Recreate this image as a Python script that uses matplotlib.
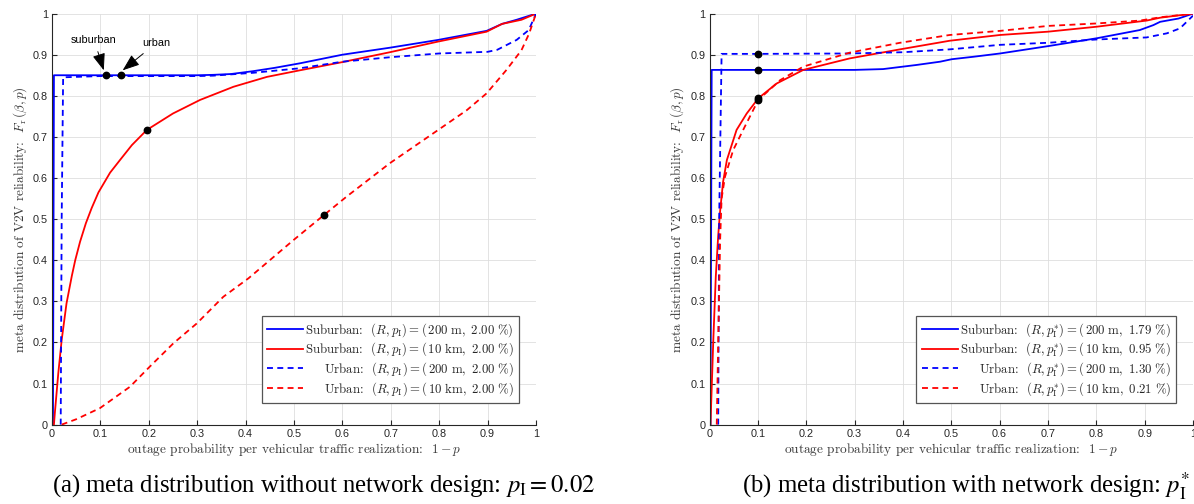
import matplotlib
matplotlib.use("Agg")
import matplotlib.pyplot as plt
import numpy as np

plt.rcParams['mathtext.fontset'] = 'cm'
plt.rcParams['font.family'] = ['Liberation Sans', 'DejaVu Sans']

# ---------------- data: (a) without network design ----------------
a_sub200_x = [0.002, 0.004, 0.1, 0.2, 0.3, 0.333, 0.37, 0.416, 0.46, 0.512, 0.6, 0.698, 0.798, 0.898, 0.93, 0.96, 1.0]
a_sub200_y = [0.0, 0.85, 0.85, 0.85, 0.85, 0.851, 0.853, 0.86, 0.868, 0.879, 0.9, 0.917, 0.936, 0.958, 0.975, 0.985, 1.0]

a_sub10k_x = [0.004, 0.006, 0.013, 0.02, 0.03, 0.041, 0.048, 0.058, 0.07, 0.082, 0.096, 0.12, 0.14, 0.165, 0.196, 0.25,
              0.306, 0.375, 0.444, 0.512, 0.6, 0.698, 0.798, 0.898, 0.93, 0.97, 1.0]
a_sub10k_y = [0.0, 0.03, 0.125, 0.206, 0.295, 0.362, 0.4, 0.445, 0.49, 0.527, 0.565, 0.613, 0.643, 0.68, 0.717, 0.757,
              0.79, 0.822, 0.846, 0.862, 0.882, 0.906, 0.932, 0.956, 0.975, 0.985, 1.0]

a_urb200_x = [0.018, 0.02, 0.023, 0.1, 0.2, 0.3, 0.333, 0.416, 0.512, 0.6, 0.7, 0.8, 0.9, 0.92, 0.96, 0.985, 1.0]
a_urb200_y = [0.0, 0.5, 0.845, 0.848, 0.848, 0.848, 0.849, 0.856, 0.867, 0.883, 0.894, 0.903, 0.907, 0.912, 0.936, 0.96, 1.0]

a_urb10k_x = [0.02, 0.05, 0.099, 0.161, 0.202, 0.251, 0.299, 0.354, 0.406, 0.5, 0.562, 0.609, 0.698, 0.798,
              0.857, 0.898, 0.939, 0.97, 0.986, 1.0]
a_urb10k_y = [0.0, 0.013, 0.04, 0.092, 0.141, 0.198, 0.246, 0.311, 0.356, 0.45, 0.51, 0.555, 0.636, 0.717,
              0.765, 0.806, 0.863, 0.911, 0.952, 1.0]

a_mark_x = [0.112, 0.142, 0.196, 0.562]
a_mark_y = [0.85, 0.85, 0.717, 0.51]

a_labels = [r'Suburban:  $(R, p_{\mathrm{I}}) = (\,200\ \mathrm{m},\ 2.00\ \%)$',
            r'Suburban:  $(R, p_{\mathrm{I}}) = (\,10\ \mathrm{km},\ 2.00\ \%)$',
            r'Urban:  $(R, p_{\mathrm{I}}) = (\,200\ \mathrm{m},\ 2.00\ \%)$',
            r'Urban:  $(R, p_{\mathrm{I}}) = (\,10\ \mathrm{km},\ 2.00\ \%)$']

# ---------------- data: (b) with network design ----------------
b_sub200_x = [0.002, 0.0045, 0.1, 0.2, 0.3, 0.359, 0.428, 0.477, 0.501, 0.546, 0.601, 0.701, 0.801, 0.89, 0.918, 0.932, 0.97, 1.0]
b_sub200_y = [0.0, 0.863, 0.863, 0.863, 0.863, 0.865, 0.875, 0.883, 0.889, 0.895, 0.903, 0.921, 0.94, 0.96, 0.972, 0.98, 0.988, 1.0]

b_sub10k_x = [0.002, 0.008, 0.013, 0.018, 0.022, 0.028, 0.036, 0.056, 0.077, 0.101, 0.139, 0.194, 0.29, 0.394,
              0.497, 0.601, 0.70, 0.80, 0.904, 0.932, 1.0]
b_sub10k_y = [0.0, 0.21, 0.36, 0.46, 0.52, 0.59, 0.644, 0.717, 0.757, 0.794, 0.83, 0.863, 0.891, 0.913,
              0.934, 0.948, 0.956, 0.968, 0.983, 0.99, 1.0]

b_urb200_x = [0.018, 0.02, 0.025, 0.1, 0.29, 0.4, 0.497, 0.601, 0.70, 0.80, 0.904, 0.946, 0.973, 1.0]
b_urb200_y = [0.0, 0.5, 0.902, 0.902, 0.903, 0.906, 0.913, 0.924, 0.929, 0.937, 0.942, 0.952, 0.964, 0.995]

b_urb10k_x = [0.015, 0.018, 0.022, 0.025, 0.032, 0.049, 0.073, 0.101, 0.146, 0.194, 0.29, 0.394, 0.497, 0.601,
              0.70, 0.80, 0.89, 0.932, 1.0]
b_urb10k_y = [0.0, 0.2, 0.45, 0.55, 0.603, 0.668, 0.725, 0.79, 0.838, 0.871, 0.905, 0.929, 0.948, 0.958,
              0.970, 0.976, 0.983, 0.991, 1.0]

b_mark_x = [0.1, 0.1, 0.1, 0.1]
b_mark_y = [0.902, 0.863, 0.794, 0.79]

b_labels = [r'Suburban:  $(R, p_{\mathrm{I}}^{*}) = (\,200\ \mathrm{m},\ 1.79\ \%)$',
            r'Suburban:  $(R, p_{\mathrm{I}}^{*}) = (\,10\ \mathrm{km},\ 0.95\ \%)$',
            r'Urban:  $(R, p_{\mathrm{I}}^{*}) = (\,200\ \mathrm{m},\ 1.30\ \%)$',
            r'Urban:  $(R, p_{\mathrm{I}}^{*}) = (\,10\ \mathrm{km},\ 0.21\ \%)$']

ticks = [0, 0.1, 0.2, 0.3, 0.4, 0.5, 0.6, 0.7, 0.8, 0.9, 1]
tick_labels = ['0', '0.1', '0.2', '0.3', '0.4', '0.5', '0.6', '0.7', '0.8', '0.9', '1']

xlabel = r'outage probability per vehicular traffic realization:  $1-p$'
ylabel = r'meta distribution of V2V reliability:  $F_{\mathrm{r}}\,(\beta, p)$'
cap_a = r'(a) meta distribution without network design: $p_{\mathrm{I}} = 0.02$'
cap_b = r'(b) meta distribution with network design: $p_{\mathrm{I}}^{*}$'

AX_COL = '#262626'
LW = 1.3
DASH = (3.3, 2.4)
LAB_FS = 9.6
LEG_FS = 9.2

fig = plt.figure(figsize=(11.94, 5.04), dpi=100)
W, H = 1194.0, 504.0
ax_a = fig.add_axes([52 / W, (H - 424.6) / H, 484 / W, 411 / H])
ax_b = fig.add_axes([709.5 / W, (H - 424.6) / H, 483.5 / W, 411 / H])


def style_axes(ax):
    ax.set_xlim(0, 1)
    ax.set_ylim(0, 1)
    ax.set_xticks(ticks)
    ax.set_yticks(ticks)
    ax.set_xticklabels(tick_labels)
    ax.set_yticklabels(tick_labels)
    for s in ['top', 'right']:
        ax.spines[s].set_visible(False)
    for s in ['left', 'bottom']:
        ax.spines[s].set_color(AX_COL)
        ax.spines[s].set_linewidth(0.8)
    ax.tick_params(direction='in', length=3.5, width=0.8, color=AX_COL,
                   labelsize=7.8, labelcolor=AX_COL, pad=3)
    ax.grid(True, color='#dedede', linewidth=0.6)
    ax.set_axisbelow(True)
    ax.set_xlabel(xlabel, fontsize=LAB_FS, family='cmr10', color='#3a3a3a', labelpad=1.5)
    ax.set_ylabel(ylabel, fontsize=LAB_FS, family='cmr10', color='#3a3a3a', labelpad=3)


def draw(ax, sub200, sub10k, urb200, urb10k, marks, labels):
    l1, = ax.plot(*sub200, color='blue', lw=LW, label=labels[0])
    l2, = ax.plot(*sub10k, color='red', lw=LW, label=labels[1])
    l3, = ax.plot(*urb200, color='blue', lw=LW, dashes=DASH, label=labels[2])
    l4, = ax.plot(*urb10k, color='red', lw=LW, dashes=DASH, label=labels[3])
    ax.plot(*marks, linestyle='none', marker='o', color='black', markersize=4.6, zorder=5)
    leg = ax.legend(handles=[l1, l2, l3, l4], loc='lower right', bbox_to_anchor=(0.965, 0.0526),
                    borderaxespad=0, prop=dict(family='cmr10', size=LEG_FS), handlelength=2.85,
                    handletextpad=0.15, labelspacing=0.15, borderpad=0.4, fancybox=False,
                    framealpha=1, edgecolor='#555555')
    leg.get_frame().set_linewidth(0.9)
    for t in leg.get_texts():
        t.set_color('#262626')
    return leg


style_axes(ax_a)
style_axes(ax_b)
leg_a = draw(ax_a, (a_sub200_x, a_sub200_y), (a_sub10k_x, a_sub10k_y), (a_urb200_x, a_urb200_y),
             (a_urb10k_x, a_urb10k_y), (a_mark_x, a_mark_y), a_labels)
leg_b = draw(ax_b, (b_sub200_x, b_sub200_y), (b_sub10k_x, b_sub10k_y), (b_urb200_x, b_urb200_y),
             (b_urb10k_x, b_urb10k_y), (b_mark_x, b_mark_y), b_labels)

# annotations in (a)
arrow = dict(arrowstyle='-|>,head_length=0.8,head_width=0.3', color='black', lw=0.7,
             shrinkA=3, shrinkB=0, mutation_scale=13)
ax_a.annotate('suburban', xy=(0.107, 0.862), xytext=(0.087, 0.936), ha='center', va='center',
              fontsize=7.8, arrowprops=arrow)
ax_a.annotate('urban', xy=(0.146, 0.862), xytext=(0.215, 0.928), ha='center', va='center',
              fontsize=7.8, arrowprops=arrow)

# captions
fig.text(52 / W, 1 - 486 / H, cap_a, fontsize=17.8, family='Liberation Serif', math_fontfamily='stix',
         ha='left', va='center')
fig.text(742 / W, 1 - 486 / H, cap_b, fontsize=17.8, family='Liberation Serif', math_fontfamily='stix',
         ha='left', va='center')

# right-align legend label texts (MATLAB style)
fig.canvas.draw()
r = fig.canvas.get_renderer()
for leg in (leg_a, leg_b):
    texts = leg.get_texts()
    ws = [t.get_window_extent(r).width for t in texts]
    wmax = max(ws)
    for t, w in zip(texts, ws):
        t.set_x(wmax - w)

fig.savefig('out.png', dpi=100)
